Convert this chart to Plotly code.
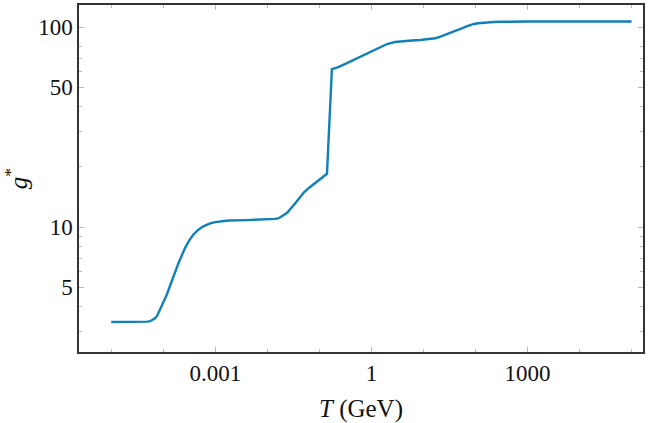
import plotly.graph_objects as go

# Temperature (GeV) and effective relativistic degrees of freedom g*
T_GeV = [1e-5, 3.16e-5, 4.9e-5, 5.62e-5, 6.31e-5, 6.92e-5, 7.59e-5, 8.32e-5,
         9.33e-5, 1.17e-4, 1.46e-4, 1.97e-4, 2.63e-4, 3.16e-4, 3.8e-4, 4.68e-4,
         5.89e-4, 7.94e-4, 1e-3, 1.78e-3, 3.98e-3, 0.01, 0.0141, 0.0166, 0.02,
         0.024, 0.0347, 0.0417, 0.0501, 0.0646, 0.0832, 0.107, 0.14, 0.174,
         0.224, 0.316, 0.452, 0.661, 0.951, 1.41, 2.0, 2.82, 4.17, 6.03, 8.71,
         12.6, 16.9, 20.0, 25.1, 30.9, 38.0, 46.8, 56.2, 67.6, 79.4, 93.3, 112,
         135, 166, 224, 302, 1000, 1e5]
g_star = [3.36, 3.36, 3.37, 3.39, 3.45, 3.5, 3.6, 3.78,
          4.04, 4.61, 5.38, 6.64, 7.89, 8.6, 9.2, 9.7,
          10.1, 10.45, 10.6, 10.8, 10.85, 10.9, 11.0, 11.1, 11.4,
          11.8, 13.2, 14.0, 14.9, 15.8, 16.6, 17.5, 18.5, 61.7,
          63.0, 65.5, 68.5, 72.0, 75.5, 79.3, 82.4, 84.3, 85.3, 85.8, 86.3,
          87.0, 88.1, 89.3, 91.2, 93.0, 95.0, 97.0, 99.0, 101.0, 102.6, 103.8, 104.7,
          105.3, 105.8, 106.2, 106.4, 106.7, 106.75]

x_major = [1e-3, 1, 1e3]
x_major_labels = ["0.001", "1", "1000"]
x_minor = [1e-5, 1e-4, 1e-2, 1e-1, 10, 100, 1e4, 1e5]
y_major = [5, 10, 50, 100]
y_major_labels = ["5", "10", "50", "100"]
y_minor = [3, 4, 6, 7, 8, 9, 20, 30, 40, 60, 70, 80]

FAMILY = "Liberation Serif"

fig = go.Figure(go.Scatter(
    x=T_GeV, y=g_star, mode="lines",
    line=dict(color="#0f80b8", width=2.4),
    showlegend=False, hoverinfo="skip",
))

tickfont = dict(family=FAMILY, size=23, color="#111")
titlefont = dict(family=FAMILY, size=25, color="#111")
axis_common = dict(
    type="log", showgrid=False, zeroline=False, automargin=False,
    showline=True, linecolor="#333", linewidth=1.5, mirror="ticks",
    ticks="inside", ticklen=5, tickcolor="#b8b8b8", tickwidth=1,
    tickfont=tickfont, tickmode="array",
)

fig.update_layout(
    width=648, height=423,
    margin=dict(l=79, r=5, t=5, b=71),
    paper_bgcolor="white", plot_bgcolor="white",
    font=dict(family=FAMILY, color="#111"),
    xaxis=dict(
        **axis_common,
        range=[-5.62, 5.22],
        tickvals=x_major, ticktext=x_major_labels,
        minor=dict(tickmode="array", tickvals=x_minor, ticks="inside",
                   ticklen=3, tickcolor="#b8b8b8", tickwidth=1),
        title=dict(text="<i>T</i> (GeV)", font=titlefont, standoff=14),
    ),
    yaxis=dict(
        **axis_common,
        range=[0.376, 2.111],
        tickvals=y_major, ticktext=y_major_labels,
        minor=dict(tickmode="array", tickvals=y_minor, ticks="inside",
                   ticklen=3, tickcolor="#b8b8b8", tickwidth=1),
        title=dict(text="<i>g</i><sup>*</sup>", font=titlefont, standoff=14),
    ),
)

fig.write_html("out.html", config={"displayModeBar": False},
               post_script="document.body.style.margin='0';")
